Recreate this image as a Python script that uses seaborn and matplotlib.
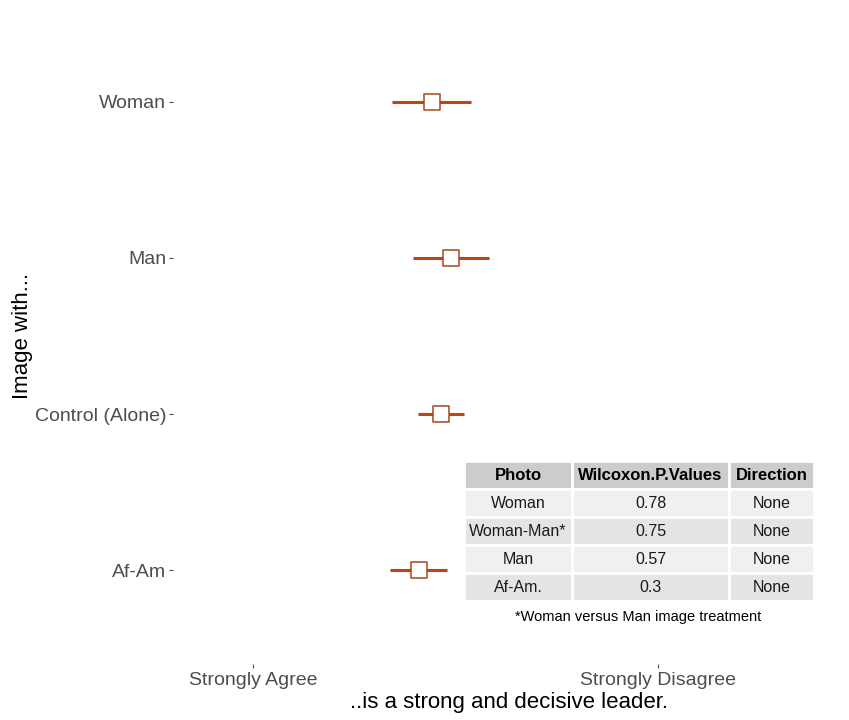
import matplotlib
matplotlib.use("Agg")
import matplotlib.pyplot as plt
import seaborn as sns
import pandas as pd
import numpy as np

groups = ["Woman", "Man", "Control (Alone)", "Af-Am"]
means = [2.77, 2.96, 2.86, 2.64]
lower = [2.37, 2.58, 2.63, 2.35]
upper = [3.15, 3.33, 3.09, 2.92]

x_ticks = [1, 5]
x_ticklabels = ["Strongly Agree", "Strongly Disagree"]

tbl_cols = ["Photo", "Wilcoxon.P.Values", "Direction"]
tbl_photo = ["Woman", "Woman-Man*", "Man", "Af-Am."]
tbl_p = ["0.78", "0.75", "0.57", "0.3"]
tbl_dir = ["None", "None", "None", "None"]
footnote = "*Woman versus Man image treatment"

sns.set_theme(style="white")
plt.rcParams['font.family'] = ['Liberation Sans', 'DejaVu Sans']

col = "#BF4413"
fig = plt.figure(figsize=(8.49, 7.2), dpi=100)
ax = fig.add_axes([173/849, 1-664/720, (844-173)/849, (664-8)/720])

df = pd.DataFrame({"group": groups, "mean": means, "lo": lower, "hi": upper})
ypos = np.arange(len(groups))
ax.hlines(ypos, df["lo"], df["hi"], color=col, lw=2.2, zorder=2)
sns.scatterplot(data=df, x="mean", y=ypos, marker="s", s=125, color="white",
                edgecolor="#A8461C", linewidth=1.1, ax=ax, zorder=3, legend=False)

ax.set_yticks(ypos)
ax.set_yticklabels(groups)
ax.set_ylim(len(groups)-1+0.6, -0.6)
ax.set_xlim(0.21, 6.84)
ax.set_xticks(x_ticks)
ax.set_xticklabels(x_ticklabels)
for s in ax.spines.values():
    s.set_visible(False)
ax.tick_params(axis="both", which="both", length=3, width=0.8, color="#4d4d4d",
               labelcolor="#4d4d4d", labelsize=14, pad=2,
               left=True, bottom=True)
ax.tick_params(axis="x", pad=3)
ax.set_xlabel("..is a strong and decisive leader.", fontsize=16, color="black", labelpad=2)
ax.set_ylabel("Image with...", fontsize=16, color="black")
ax.yaxis.set_label_coords((33 - 173) / (844 - 173), 0.5)

# table inset
tax = fig.add_axes([464/849, 1-601/720, 350/849, 140/720])
tax.axis("off")
cell_text = [[a, b, c] for a, b, c in zip(tbl_photo, tbl_p, tbl_dir)]
t = tax.table(cellText=cell_text, colLabels=tbl_cols, bbox=[0, 0, 1, 1],
              cellLoc="center", colWidths=[108, 157, 85])
t.auto_set_font_size(False)
row_colors = ["#f0f0f0", "#e4e4e4", "#f0f0f0", "#e4e4e4"]
for (r, c), cell in t.get_celld().items():
    cell.set_edgecolor("white")
    cell.set_linewidth(2)
    cell.get_text().set_fontsize(11.5)
    if r == 0:
        cell.set_facecolor("#cccccc")
        cell.get_text().set_fontweight("bold")
        cell.get_text().set_fontsize(12)
        cell.get_text().set_color("black")
    else:
        cell.set_facecolor(row_colors[r-1])
        cell.get_text().set_color("#1a1a1a")

fig.text(638/849, 1-617/720, footnote, ha="center", va="center", fontsize=10.5, color="black")

fig.savefig("out.png", dpi=100, facecolor="white")
